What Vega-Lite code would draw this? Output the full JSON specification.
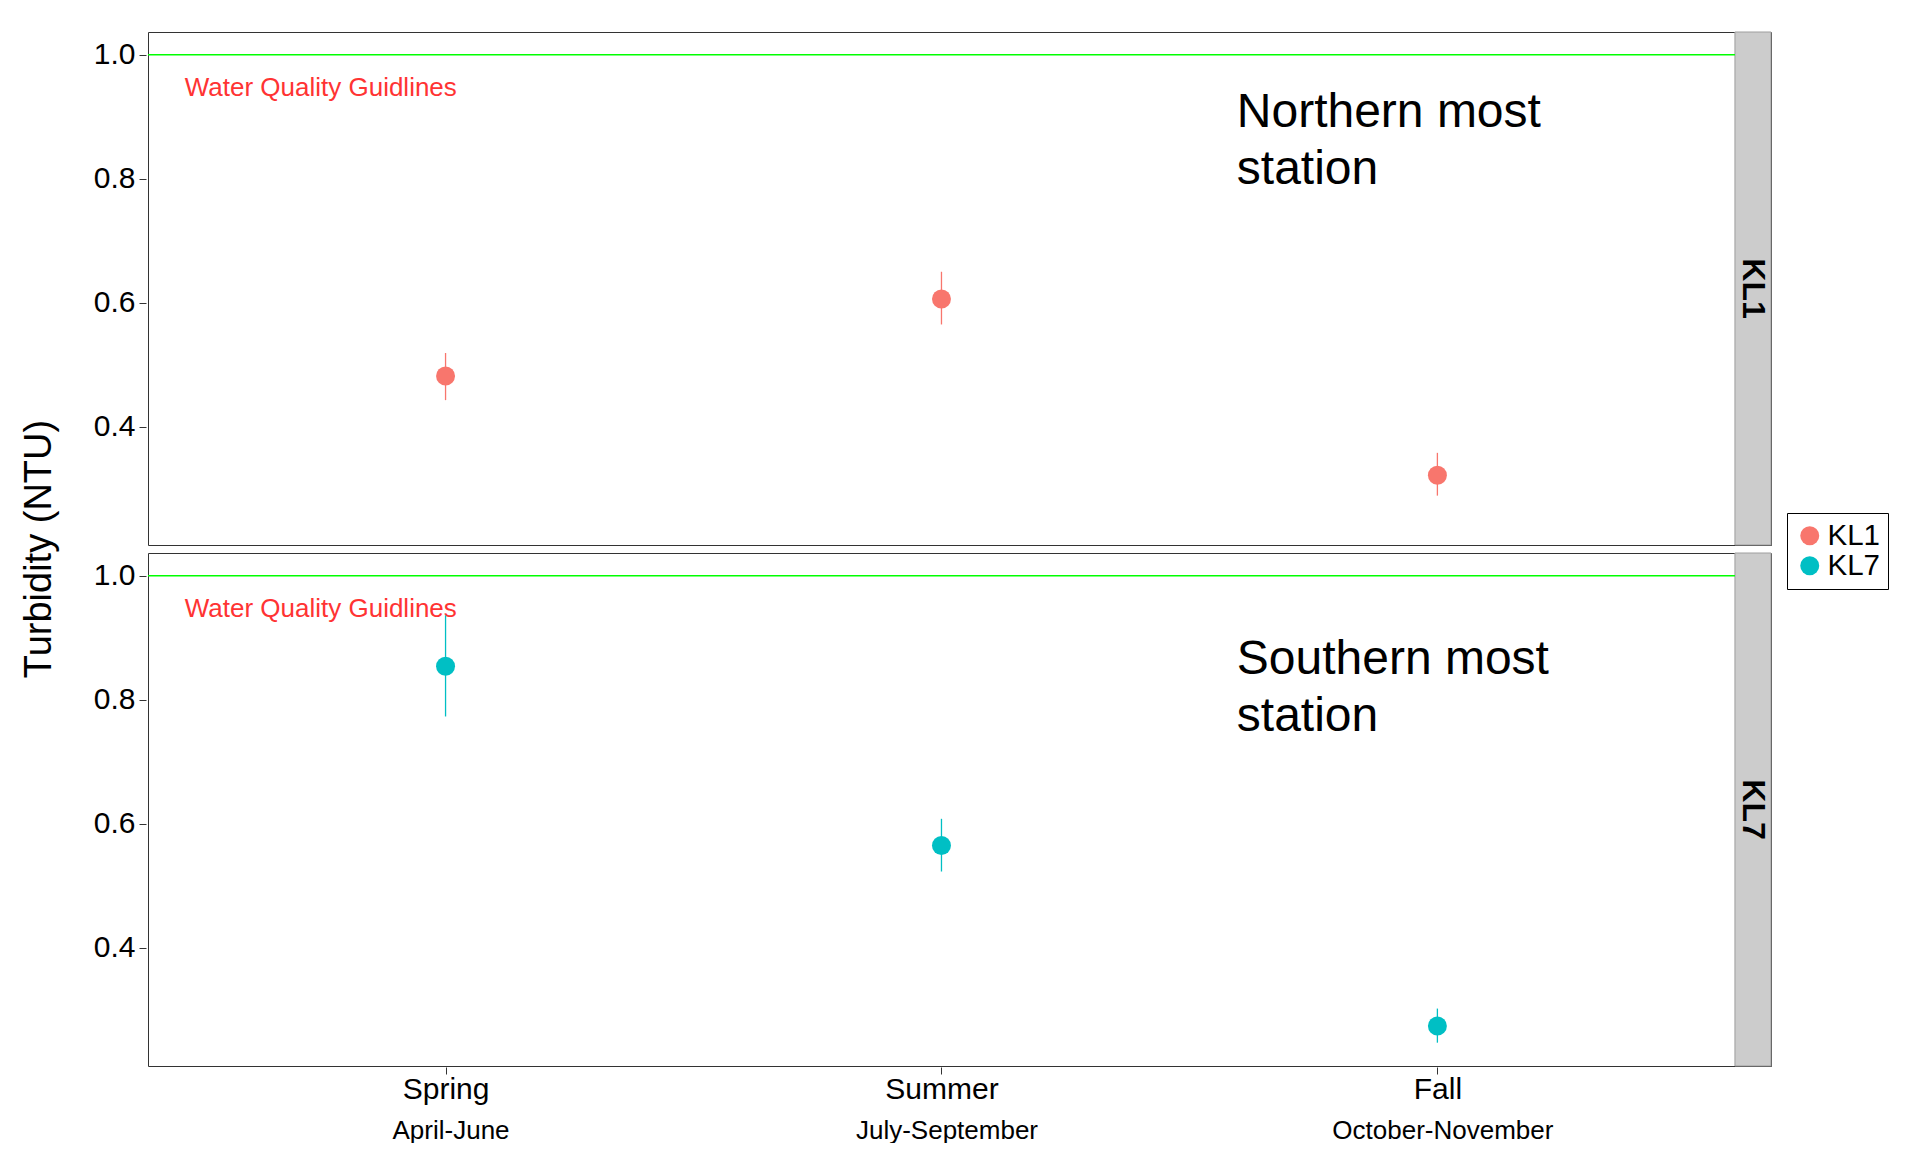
{
  "$schema": "https://vega.github.io/schema/vega-lite/v6.json",
  "background": "white",
  "padding": {"left": 20, "top": 31, "right": 20, "bottom": 0},
  "data": {
    "values": [
      {"station": "KL1", "season_no": 1, "season": "Spring", "turb": 0.482, "lo": 0.443, "hi": 0.519},
      {"station": "KL1", "season_no": 2, "season": "Summer", "turb": 0.606, "lo": 0.565, "hi": 0.650},
      {"station": "KL1", "season_no": 3, "season": "Fall", "turb": 0.322, "lo": 0.289, "hi": 0.358},
      {"station": "KL7", "season_no": 1, "season": "Spring", "turb": 0.854, "lo": 0.773, "hi": 0.936},
      {"station": "KL7", "season_no": 2, "season": "Summer", "turb": 0.565, "lo": 0.523, "hi": 0.608},
      {"station": "KL7", "season_no": 3, "season": "Fall", "turb": 0.274, "lo": 0.247, "hi": 0.302}
    ]
  },
  "facet": {
    "row": {
      "field": "station",
      "type": "nominal",
      "title": "Turbidity (NTU)",
      "header": {
        "labels": false,
        "titleOrient": "left",
        "titleFontSize": 38,
        "titleFont": "Liberation Sans",
        "titleFontWeight": "normal",
        "titleColor": "black",
        "titlePadding": 24
      }
    }
  },
  "spacing": {"row": 6},
  "spec": {
    "width": 1623,
    "height": 513,
    "layer": [
      {
        "transform": [{"filter": "datum.season_no == 1"}],
        "mark": {"type": "rect", "fill": "#cccccc", "stroke": "#9e9e9e", "strokeWidth": 1},
        "encoding": {
          "x": {"datum": 3.6, "type": "quantitative", "scale": {"domain": [0.4, 3.6727], "nice": false, "zero": false}, "axis": null},
          "x2": {"datum": 3.6727},
          "y": {"datum": 0.2094, "type": "quantitative", "scale": {"domain": [0.2094, 1.0366], "nice": false, "zero": false},
                "axis": {"values": [0.4, 0.6, 0.8, 1.0], "format": ".1f", "title": null, "labelFontSize": 30, "labelColor": "black", "tickSize": 7, "tickColor": "#333333", "domain": false, "grid": false, "labelPadding": 4, "orient": "left"}},
          "y2": {"datum": 1.0366}
        }
      },
      {
        "transform": [{"filter": "datum.season_no == 1"}],
        "mark": {"type": "text", "angle": 90, "fontSize": 32, "fontWeight": "bold", "align": "center", "baseline": "middle", "color": "black", "font": "Liberation Sans"},
        "encoding": {
          "x": {"datum": 3.6363, "type": "quantitative", "scale": {"domain": [0.4, 3.6727], "nice": false, "zero": false}, "axis": null},
          "y": {"datum": 0.623, "type": "quantitative",
                "axis": {"values": [0.4, 0.6, 0.8, 1.0], "format": ".1f", "title": null, "labelFontSize": 30, "labelColor": "black", "tickSize": 7, "tickColor": "#333333", "domain": false, "grid": false, "labelPadding": 4, "orient": "left"}},
          "text": {"field": "station"}
        }
      },
      {
        "transform": [{"filter": "datum.season_no == 1"}],
        "mark": {"type": "rule", "color": "#00ff00", "strokeWidth": 1.5},
        "encoding": {
          "x": {"datum": 0.4, "type": "quantitative", "scale": {"domain": [0.4, 3.6727], "nice": false, "zero": false}, "axis": null},
          "x2": {"datum": 3.6},
          "y": {"datum": 1.0, "type": "quantitative",
                "axis": {"values": [0.4, 0.6, 0.8, 1.0], "format": ".1f", "title": null, "labelFontSize": 30, "labelColor": "black", "tickSize": 7, "tickColor": "#333333", "domain": false, "grid": false, "labelPadding": 4, "orient": "left"}}
        }
      },
      {
        "transform": [{"filter": "datum.season_no == 1"}],
        "mark": {"type": "text", "fontSize": 26, "align": "left", "baseline": "alphabetic", "color": "#ff3333", "font": "Liberation Sans"},
        "encoding": {
          "x": {"datum": 0.474, "type": "quantitative", "scale": {"domain": [0.4, 3.6727], "nice": false, "zero": false}, "axis": null},
          "y": {"datum": 0.933, "type": "quantitative",
                "axis": {"values": [0.4, 0.6, 0.8, 1.0], "format": ".1f", "title": null, "labelFontSize": 30, "labelColor": "black", "tickSize": 7, "tickColor": "#333333", "domain": false, "grid": false, "labelPadding": 4, "orient": "left"}},
          "text": {"value": "Water Quality Guidlines"}
        }
      },
      {
        "transform": [{"filter": "datum.season_no == 1 && datum.station == 'KL1'"}],
        "mark": {"type": "text", "fontSize": 48, "lineHeight": 57, "align": "left", "baseline": "alphabetic", "color": "black", "font": "Liberation Sans"},
        "encoding": {
          "x": {"datum": 2.5955, "type": "quantitative", "scale": {"domain": [0.4, 3.6727], "nice": false, "zero": false}, "axis": null},
          "y": {"datum": 0.8835, "type": "quantitative",
                "axis": {"values": [0.4, 0.6, 0.8, 1.0], "format": ".1f", "title": null, "labelFontSize": 30, "labelColor": "black", "tickSize": 7, "tickColor": "#333333", "domain": false, "grid": false, "labelPadding": 4, "orient": "left"}},
          "text": {"value": ["Northern most", "station"]}
        }
      },
      {
        "transform": [{"filter": "datum.season_no == 1 && datum.station == 'KL7'"}],
        "mark": {"type": "text", "fontSize": 48, "lineHeight": 57, "align": "left", "baseline": "alphabetic", "color": "black", "font": "Liberation Sans"},
        "encoding": {
          "x": {"datum": 2.5955, "type": "quantitative", "scale": {"domain": [0.4, 3.6727], "nice": false, "zero": false}, "axis": null},
          "y": {"datum": 0.842, "type": "quantitative",
                "axis": {"values": [0.4, 0.6, 0.8, 1.0], "format": ".1f", "title": null, "labelFontSize": 30, "labelColor": "black", "tickSize": 7, "tickColor": "#333333", "domain": false, "grid": false, "labelPadding": 4, "orient": "left"}},
          "text": {"value": ["Southern most", "station"]}
        }
      },
      {
        "mark": {"type": "rule", "strokeWidth": 1.3},
        "encoding": {
          "x": {
            "field": "season_no", "type": "quantitative",
            "scale": {"domain": [0.4, 3.6727], "nice": false, "zero": false},
            "axis": {"orient": "bottom", "values": [1, 2, 3], "labelExpr": "['', 'April-June', 'July-September', 'October-November'][datum.value]", "title": null, "labelFontSize": 26, "labelColor": "black", "ticks": false, "domain": false, "grid": false, "labelPadding": 6, "offset": 44, "labelOffset": 5, "labelFlush": false, "labelLimit": 500}
          },
          "y": {"field": "lo", "type": "quantitative",
                "axis": {"values": [0.4, 0.6, 0.8, 1.0], "format": ".1f", "title": null, "labelFontSize": 30, "labelColor": "black", "tickSize": 7, "tickColor": "#333333", "domain": false, "grid": false, "labelPadding": 4, "orient": "left"}},
          "y2": {"field": "hi"},
          "stroke": {"condition": {"test": "datum.station == 'KL1'", "value": "#F8766D"}, "value": "#00BFC4"}
        }
      },
      {
        "mark": {"type": "circle", "size": 360, "opacity": 1},
        "encoding": {
          "x": {
            "field": "season_no", "type": "quantitative",
            "scale": {"domain": [0.4, 3.6727], "nice": false, "zero": false},
            "axis": {"orient": "bottom", "values": [1, 2, 3], "labelExpr": "['', 'Spring', 'Summer', 'Fall'][datum.value]", "title": null, "labelFontSize": 30, "labelColor": "black", "tickSize": 7, "tickColor": "#333333", "domain": false, "grid": false, "labelPadding": 0, "labelFlush": false}
          },
          "y": {
            "field": "turb", "type": "quantitative",
            "scale": {"domain": [0.2094, 1.0366], "nice": false, "zero": false},
            "axis": {"values": [0.4, 0.6, 0.8, 1.0], "format": ".1f", "title": null, "labelFontSize": 30, "labelColor": "black", "tickSize": 7, "tickColor": "#333333", "domain": false, "grid": false, "labelPadding": 4, "orient": "left"}
          },
          "color": {
            "field": "station", "type": "nominal",
            "scale": {"domain": ["KL1", "KL7"], "range": ["#F8766D", "#00BFC4"]},
            "legend": {"title": null, "orient": "none", "legendX": 1639, "legendY": 481, "strokeColor": "black", "fillColor": "white", "padding": 8, "labelFontSize": 29.5, "labelColor": "black", "labelFont": "Liberation Sans", "symbolSize": 360, "symbolType": "circle", "symbolOpacity": 1, "symbolStrokeWidth": 0, "rowPadding": -4, "labelOffset": 3}
          }
        }
      }
    ],
    "resolve": {"axis": {"x": "independent"}}
  },
  "config": {
    "font": "Liberation Sans",
    "view": {"stroke": "#333333", "strokeWidth": 1},
    "axis": {"labelFont": "Liberation Sans", "grid": false}
  }
}
